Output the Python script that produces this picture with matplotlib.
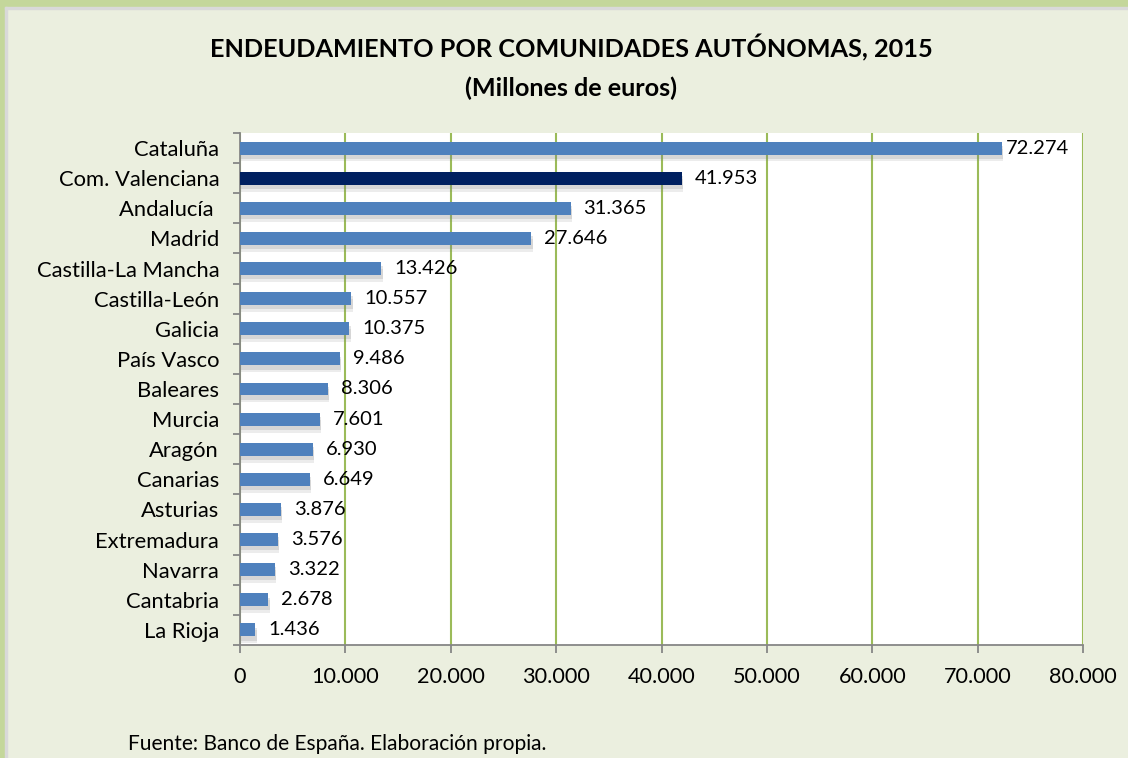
import matplotlib
matplotlib.use("Agg")
import matplotlib.pyplot as plt
from matplotlib.patches import Rectangle
import matplotlib.patheffects as pe
from matplotlib.ticker import FuncFormatter, MultipleLocator

categories = ["Cataluña", "Com. Valenciana", "Andalucía ", "Madrid", "Castilla-La Mancha",
              "Castilla-León", "Galicia", "País Vasco", "Baleares", "Murcia", "Aragón",
              "Canarias", "Asturias", "Extremadura", "Navarra", "Cantabria", "La Rioja"]
values = [72274, 41953, 31365, 27646, 13426, 10557, 10375, 9486, 8306, 7601, 6930,
          6649, 3876, 3576, 3322, 2678, 1436]
highlight = "Com. Valenciana"

plt.rcParams['font.family'] = ['Lato', 'DejaVu Sans']

W, H = 1128, 758
fig = plt.figure(figsize=(W/100, H/100), dpi=100)
fig.patch.set_facecolor("#EBEFDF")
fig.add_artist(Rectangle((0, 1 - 7/H), 1, 7/H, transform=fig.transFigure, color="#C4D79B", zorder=0))
fig.add_artist(Rectangle((0, 0), 5/W, 1, transform=fig.transFigure, color="#C4D79B", zorder=0))
fig.add_artist(Rectangle((5/W, 1 - 9/H), 1, 2/H, transform=fig.transFigure, color="#D9D9D9", zorder=0))
fig.add_artist(Rectangle((5/W, 0), 2/W, 1 - 7/H, transform=fig.transFigure, color="#D9D9D9", zorder=0))

left, right, top, bottom = 240, 1083, 133, 645
ax = fig.add_axes([left/W, 1 - bottom/H, (right-left)/W, (bottom-top)/H])
ax.set_facecolor("white")

n = len(categories)
ypos = list(range(n))
colors = ["#002060" if c == highlight else "#4F81BD" for c in categories]
bars = ax.barh(ypos, values, height=0.43, color=colors, zorder=3)
for b in bars:
    b.set_path_effects([
        pe.SimplePatchShadow(offset=(1, -5), shadow_rgbFace="#808080", alpha=0.15),
        pe.SimplePatchShadow(offset=(1, -3), shadow_rgbFace="#808080", alpha=0.2),
        pe.Normal()])

ax.set_xlim(0, 80000)
ax.set_ylim(n - 0.5, -0.5)
ax.xaxis.set_major_locator(MultipleLocator(10000))
ax.xaxis.set_major_formatter(FuncFormatter(lambda v, p: "0" if v == 0 else f"{int(v):,}".replace(",", ".")))
ax.grid(axis="x", color="#9BBB59", linewidth=1.5, zorder=1)
ax.set_axisbelow(True)

ax.set_yticks(ypos)
ax.set_yticklabels(categories, fontsize=15.8)
ax.set_yticks([i - 0.5 for i in range(n + 1)], minor=True)
ax.tick_params(axis="y", which="major", length=0, pad=15)
ax.tick_params(axis="y", which="minor", length=5, color="#868686", width=1.3)
ax.tick_params(axis="x", which="major", length=6, color="#868686", width=1.3, labelsize=15.6, pad=10)

for s in ["top", "right"]:
    ax.spines[s].set_visible(False)
for s in ["left", "bottom"]:
    ax.spines[s].set_color("#868686")
    ax.spines[s].set_linewidth(1.3)

for y, v in zip(ypos, values):
    ax.annotate(f"{v:,}".replace(",", "."), (v, y), xytext=(4 if v > 60000 else 13, 0),
                textcoords="offset pixels",
                va="center", ha="left", fontsize=14.5, zorder=5)

fig.text(0.5 * (W + 14) / W, 1 - 48/H, "ENDEUDAMIENTO POR COMUNIDADES AUTÓNOMAS, 2015",
         ha="center", va="center", fontsize=18.2, fontweight="bold")
fig.text(0.5 * (W + 14) / W, 1 - 88/H, "(Millones de euros)",
         ha="center", va="center", fontsize=18.2, fontweight="bold")
fig.text(128/W, 1 - 744/H, "Fuente: Banco de España. Elaboración propia.",
         ha="left", va="center", fontsize=15.1)

fig.savefig("out.png", dpi=100, facecolor=fig.get_facecolor())
